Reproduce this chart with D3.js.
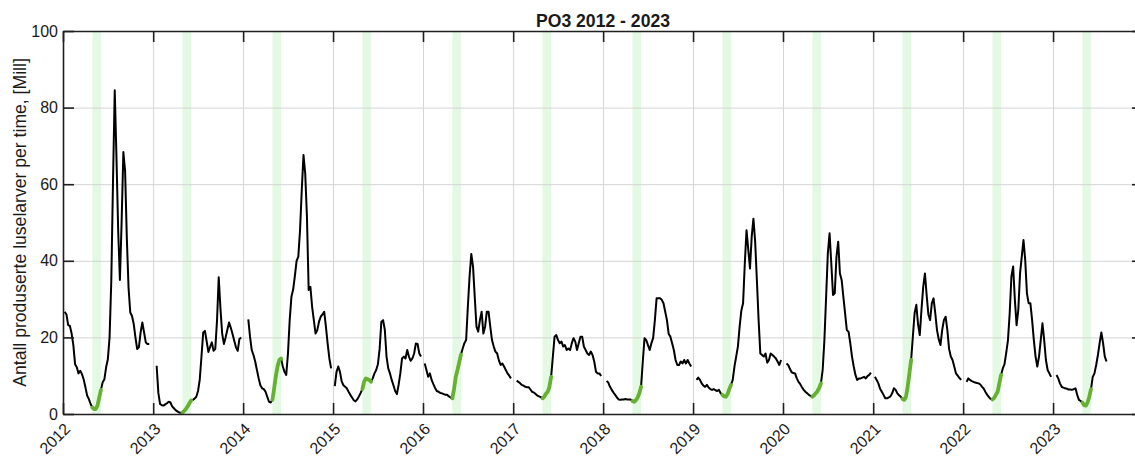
<!DOCTYPE html>
<html>
<head>
<meta charset="utf-8">
<script src="https://cdn.jsdelivr.net/npm/d3@7"></script>
<style>
  html, body { margin: 0; padding: 0; background: #ffffff; }
  svg { display: block; font-family: "Liberation Sans", Arial, Helvetica, sans-serif; }
</style>
</head>
<body>
<svg id="chart" width="1135" height="457"></svg>
<script>
// Weekly lice larvae production (million per hour), one list per year.
const years = [2012, 2013, 2014, 2015, 2016, 2017, 2018, 2019, 2020, 2021, 2022, 2023];
// Week number of the first value in each year's list
const firstWeek = [2, 3, 4, 2, 2, 3, 3, 3, 3, 2, 3, 3];

const larvae2012 = [26.7, 26.0, 23.2, 23.0, 21.0, 18.0, 13.0, 12.2, 10.6, 11.3, 10.4, 9.0, 7.0, 4.8, 3.9, 2.6, 1.7, 1.3, 1.3, 2.2, 4.3, 6.3, 8.3, 9.1, 12.2, 14.3, 20, 34.8, 60.9, 84.5, 67, 47.8, 35, 50.4, 68.4, 63.5, 46, 33, 26.5, 25.6, 23.5, 20, 17, 17.4, 21.3, 23.9, 21.3, 18.7, 18.3, 18.3];
const larvae2013 = [12.6, 5.5, 2.6, 2.3, 2.2, 2.5, 2.8, 3.2, 3.0, 2.0, 1.5, 1.0, 0.7, 0.4, 0.3, 0.4, 0.8, 1.3, 2.0, 2.8, 3.5, 3.7, 4.0, 4.5, 6.0, 9.0, 15, 21.3, 21.7, 19, 16.2, 17.5, 18.7, 16.5, 17, 24.3, 35.7, 27.5, 21, 18.3, 20, 22, 23.9, 22.5, 20.9, 19.1, 17.4, 16.5, 19.6, 20];
const larvae2014 = [24.7, 20.2, 16.7, 15.4, 13.7, 11.5, 9.3, 7.5, 6.7, 6.5, 5.8, 4.5, 3.2, 3.0, 3.7, 6.7, 10, 12.5, 14.1, 14.5, 12.4, 11, 10.2, 15.8, 24.5, 30.6, 32.5, 36, 40, 41.1, 48, 58.5, 67.6, 62.8, 51.5, 32.4, 33.2, 28, 24.5, 21, 21.9, 24.1, 25.4, 26, 26.7, 22.8, 18.4, 14.5, 11.9];
const larvae2015 = [7.3, 11, 12.4, 11, 8.5, 7.5, 7.1, 6.7, 5.8, 5, 4.3, 3.6, 3.3, 3.8, 4.6, 5.5, 6.5, 8.4, 9.3, 9.1, 8.9, 8.4, 9.3, 10.6, 11.5, 13, 17, 24.1, 24.5, 22, 15, 11.9, 10.6, 8.9, 7.5, 6, 5.2, 7.6, 10.6, 14.5, 15, 14.5, 16.7, 15, 13.9, 14.5, 15.8, 18.4, 18.3, 15.8, 15];
const larvae2016 = [13.2, 11.5, 9.7, 10.6, 8.9, 7.8, 6.8, 6.0, 5.8, 5.5, 5.4, 5.2, 5.0, 5.0, 4.6, 4.3, 4.1, 6.5, 9.7, 11.5, 13.5, 15.5, 17.1, 18.5, 19.3, 28, 35.9, 41.8, 38.5, 30.6, 22.8, 21.5, 24.5, 26.7, 21, 22.8, 26.7, 26.7, 22.8, 19.3, 17.6, 16.3, 15.8, 14, 12.8, 13.2, 12.4, 11.5, 10.6, 10, 9.3];
const larvae2017 = [8.7, 8.4, 8.0, 7.6, 7.4, 7.1, 7.0, 7.0, 6.4, 5.8, 5.6, 5.2, 4.8, 4.6, 4.4, 4.1, 4.5, 5.3, 5.8, 7.1, 9.7, 15, 20.2, 20.6, 19.3, 18.5, 18.9, 17.6, 18, 16.7, 17.1, 16.7, 18.5, 19.8, 18.9, 16.7, 18.5, 20.2, 20.2, 17.6, 16.7, 15.8, 15.4, 16.3, 15.4, 13.7, 11, 10.6, 10.6, 9.9];
const larvae2018 = [8.6, 8.2, 7.1, 6.3, 5.6, 5.0, 4.3, 3.8, 3.7, 3.8, 3.8, 3.9, 3.8, 3.8, 3.8, 3.4, 3.2, 3.6, 4.3, 5.4, 7.1, 13.7, 19.8, 19.3, 18, 16.7, 18.5, 19.8, 24.5, 30.2, 30.2, 30.2, 29.8, 28.9, 26.7, 24.5, 20.9, 20.2, 18.5, 16.7, 14.1, 12.8, 12.8, 13.7, 13.2, 14.1, 13.2, 14.1, 13.2, 12.4];
const larvae2019 = [8.9, 9.5, 8.9, 8.0, 7.4, 7.1, 7.6, 6.9, 6.5, 6.3, 6.5, 6.2, 6.0, 6.3, 5.4, 5.0, 4.6, 4.5, 5.2, 6.5, 7.6, 8.9, 12.4, 15, 17.6, 22.8, 27, 28.9, 39.3, 48, 43, 38, 46.3, 51, 45, 35, 24.5, 15.8, 15.4, 15, 15.8, 13.4, 14.1, 15.8, 15.4, 15, 14.5, 13.7, 12.8, 14.1];
const larvae2020 = [13.2, 12.8, 11.8, 10.9, 10.7, 10.6, 9.3, 8.4, 7.8, 7.0, 6.3, 5.8, 5.4, 5.0, 4.7, 4.5, 4.9, 5.4, 6.0, 6.8, 8, 11.5, 19.3, 30.6, 42, 47.2, 39.3, 31.1, 31.5, 41.1, 45, 36.7, 35, 30.6, 26.3, 21.9, 21.5, 18.5, 15, 12.4, 10.2, 8.9, 9.3, 9.3, 9.5, 9.7, 9.3, 9.9, 10.2, 10.8];
const larvae2021 = [9.7, 8.9, 8.0, 6.6, 5.8, 5.0, 4.1, 4.1, 4.3, 4.6, 5.4, 6.7, 6.3, 5.4, 4.9, 4.5, 3.9, 3.7, 4.5, 7.1, 10.6, 14.1, 20.2, 26.3, 28.5, 23.5, 20.6, 27.2, 33.2, 36.7, 31, 26, 24.5, 28.9, 30.2, 26.3, 21.9, 19.5, 18, 21.9, 24.5, 25.4, 21.9, 17, 15, 14.1, 12.4, 10.6, 10, 9.4, 8.9];
const larvae2022 = [8.4, 9.3, 8.9, 8.6, 8.4, 8.2, 8.1, 8.0, 7.7, 7.1, 6.6, 5.7, 5, 4.4, 3.9, 3.8, 4.2, 5.0, 5.8, 8, 10.2, 11.9, 13, 16, 19.3, 26.3, 35.9, 38.5, 29.8, 23.2, 27.2, 36.7, 41.1, 45.4, 40.2, 31.5, 28.9, 28.9, 24.5, 19.3, 15, 12.4, 15, 19.3, 23.7, 19.3, 14.1, 11.5, 10.6, 9.7];
const larvae2023 = [10.2, 9.3, 8, 7.1, 6.9, 6.7, 6.6, 6.4, 6.4, 6.3, 6.5, 6.7, 5, 3.7, 3.4, 3.0, 2.3, 2.2, 3.0, 4.5, 6.5, 9.7, 10.6, 12.8, 15.4, 18.5, 21.3, 18.5, 15, 13.7];

const larvaeByYear = [larvae2012, larvae2013, larvae2014, larvae2015, larvae2016, larvae2017,
                      larvae2018, larvae2019, larvae2020, larvae2021, larvae2022, larvae2023];

// Spring period (week 18 up to week 23) highlighted every year
const springWeeks = [18, 23];

const yTicks = [0, 20, 40, 60, 80, 100];
const xTickYears = years;

const titleText = "PO3 2012 - 2023";
const yLabelText = "Antall produserte luselarver per time, [Mill]";

// ---------------------------------------------------------------------------
const svg = d3.select("#chart");
const plot = { left: 63, top: 31, right: 1143, bottom: 414 };
const tickLen = 11;

const weekDate = (yr, w) => new Date(Date.UTC(yr, 0, 1 + 7 * (w - 1)));

const x = d3.scaleUtc()
  .domain([new Date(Date.UTC(2012, 0, 1)), new Date(Date.UTC(2024, 0, 1))])
  .range([plot.left, plot.right]);
const y = d3.scaleLinear().domain([0, 100]).range([plot.bottom, plot.top]);

svg.append("defs").append("clipPath").attr("id", "plotClip")
  .append("rect")
  .attr("x", plot.left).attr("y", plot.top)
  .attr("width", plot.right - plot.left).attr("height", plot.bottom - plot.top);

const series = years.map((yr, i) =>
  larvaeByYear[i].map((v, k) => ({ week: firstWeek[i] + k, date: weekDate(yr, firstWeek[i] + k), v }))
);

// spring bands
svg.append("g").attr("clip-path", "url(#plotClip)")
  .selectAll("rect").data(years).join("rect")
  .attr("x", yr => x(weekDate(yr, springWeeks[0])))
  .attr("width", yr => x(weekDate(yr, springWeeks[1])) - x(weekDate(yr, springWeeks[0])))
  .attr("y", plot.top)
  .attr("height", plot.bottom - plot.top)
  .attr("fill", "#e3f9e3");

// grid
const yearDates = xTickYears.map(yr => new Date(Date.UTC(yr, 0, 1)));
const grid = svg.append("g").attr("class", "grid");
grid.append("g")
  .attr("transform", `translate(0,${plot.bottom})`)
  .call(d3.axisBottom(x).tickValues(yearDates).tickSize(-(plot.bottom - plot.top)).tickFormat(""))
  .call(g => g.select(".domain").remove());
grid.append("g")
  .attr("transform", `translate(${plot.left},0)`)
  .call(d3.axisLeft(y).tickValues(yTicks).tickSize(-(plot.right - plot.left)).tickFormat(""))
  .call(g => g.select(".domain").remove());
grid.selectAll("line").attr("stroke", "#d4d4d4").attr("stroke-width", 1);

// data lines
const line = d3.line().x(d => x(d.date)).y(d => y(d.v));
const lines = svg.append("g").attr("clip-path", "url(#plotClip)");
lines.selectAll("path.year").data(series).join("path")
  .attr("class", "year")
  .attr("d", line)
  .attr("fill", "none")
  .attr("stroke", "#000000")
  .attr("stroke-width", 2)
  .attr("stroke-linejoin", "round");

lines.selectAll("path.spring").data(series.map(s => s.filter(d => d.week >= springWeeks[0] && d.week <= springWeeks[1])))
  .join("path")
  .attr("class", "spring")
  .attr("d", line)
  .attr("fill", "none")
  .attr("stroke", "#66b032")
  .attr("stroke-width", 3.8)
  .attr("stroke-linejoin", "round")
  .attr("stroke-linecap", "round");

// axes (box with inward ticks)
const axisColor = "#1f1f1f";
const xAxis = svg.append("g")
  .attr("transform", `translate(0,${plot.bottom})`)
  .call(d3.axisBottom(x).tickValues(yearDates).tickSize(-tickLen).tickSizeOuter(0)
        .tickFormat(d3.utcFormat("%Y")));
xAxis.selectAll("text")
  .attr("text-anchor", "end")
  .attr("y", null).attr("dy", null)
  .attr("transform", "translate(4,12) rotate(-45)")
  .attr("dominant-baseline", "central");

const topAxis = svg.append("g")
  .attr("transform", `translate(0,${plot.top})`)
  .call(d3.axisTop(x).tickValues(yearDates).tickSize(-tickLen).tickSizeOuter(0).tickFormat(""));

const yAxis = svg.append("g")
  .attr("transform", `translate(${plot.left},0)`)
  .call(d3.axisLeft(y).tickValues(yTicks).tickSize(-tickLen).tickSizeOuter(0).tickPadding(5));

const rightAxis = svg.append("g")
  .attr("transform", `translate(${plot.right},0)`)
  .call(d3.axisRight(y).tickValues(yTicks).tickSize(-tickLen).tickSizeOuter(0).tickFormat(""));

[xAxis, topAxis, yAxis, rightAxis].forEach(g => {
  g.select(".domain").attr("stroke", axisColor).attr("stroke-width", 1.6);
  g.selectAll(".tick line").attr("stroke", axisColor).attr("stroke-width", 1.6);
  g.selectAll("text").attr("fill", "#1a1a1a").attr("font-size", "16px")
    .attr("font-family", "'Liberation Sans', Arial, Helvetica, sans-serif");
});

// title and axis label
svg.append("text")
  .attr("x", (plot.left + plot.right) / 2)
  .attr("y", 27)
  .attr("text-anchor", "middle")
  .attr("font-weight", "bold")
  .attr("font-size", "17.6px")
  .attr("fill", "#1a1a1a")
  .text(titleText);

svg.append("text")
  .attr("transform", `translate(26,${(plot.top + plot.bottom) / 2}) rotate(-90)`)
  .attr("text-anchor", "middle")
  .attr("font-size", "17.6px")
  .attr("fill", "#1a1a1a")
  .text(yLabelText);
</script>
</body>
</html>
